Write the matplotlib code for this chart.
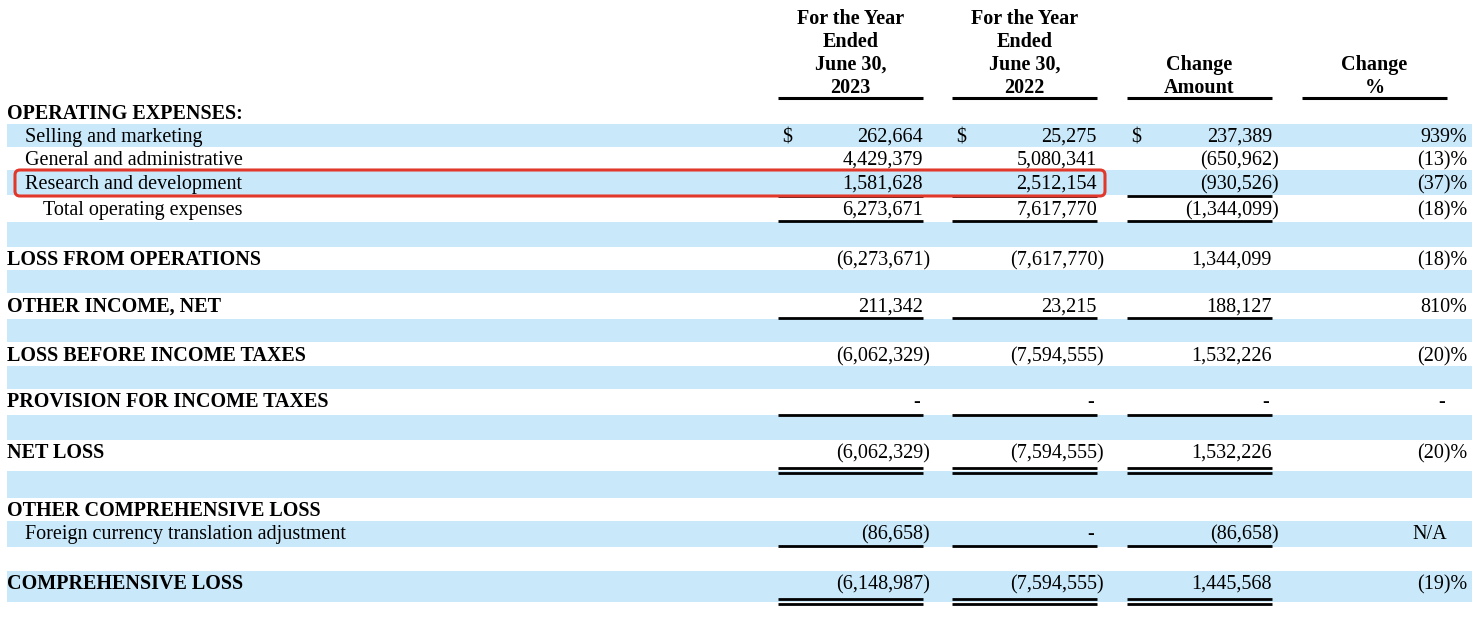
import matplotlib.pyplot as plt
from matplotlib.patches import Rectangle, FancyBboxPatch

# data
labels = ["Selling and marketing", "General and administrative", "Research and development",
          "Total operating expenses", "LOSS FROM OPERATIONS", "OTHER INCOME, NET",
          "LOSS BEFORE INCOME TAXES", "PROVISION FOR INCOME TAXES", "NET LOSS",
          "Foreign currency translation adjustment", "COMPREHENSIVE LOSS"]
y2023 = [262664, 4429379, 1581628, 6273671, -6273671, 211342, -6062329, None, -6062329, -86658, -6148987]
y2022 = [25275, 5080341, 2512154, 7617770, -7617770, 23215, -7594555, None, -7594555, None, -7594555]
change_amt = [237389, -650962, -930526, -1344099, 1344099, 188127, 1532226, None, 1532226, -86658, 1445568]
change_pct = [939, -13, -37, -18, -18, 810, -20, None, -20, "N/A", -19]
col_headers = [["For the Year", "Ended", "June 30,", "2023"],
               ["For the Year", "Ended", "June 30,", "2022"],
               ["Change", "Amount"],
               ["Change", "%"]]

# layout (pixel coords, text baselines)
row_y = [142, 165, 189, 215, 265, 312, 361, 407, 458, 539, 589]
row_x = [25, 25, 25, 43, 7, 7, 7, 7, 7, 25, 7]
row_bold = [False, False, False, False, True, True, True, True, True, False, True]
# underline style under each row: 0 none, 1 single, 2 double
row_rule = [0, 0, 1, 1, 0, 1, 0, 1, 2, 1, 2]
rule_y = [0, 0, 196, 221, 0, 318, 0, 415, 468, 546, 599]
bands = [(124, 147), (170, 195), (222, 247), (270, 293), (319, 342),
         (366, 389), (415, 440), (471, 498), (521, 547), (571, 602)]
col_left = [778, 952, 1127, 1302]
col_right = [923, 1097, 1272, 1447]
pct_right = 1467

W, H = 1481, 620
fig = plt.figure(figsize=(W / 100, H / 100), dpi=100)
ax = fig.add_axes([0, 0, 1, 1])
ax.set_xlim(0, W)
ax.set_ylim(H, 0)
ax.axis("off")

font = "Liberation Serif"
fs = 14.5
blue = "#c9e9fb"


def txt(x, y, s, ha="left", bold=False):
    ax.text(x, y, s, ha=ha, va="baseline", fontfamily=font, fontsize=fs,
            fontweight="bold" if bold else "normal")


for y0, y1 in bands:
    ax.add_patch(Rectangle((7, y0), 1465, y1 - y0, color=blue, lw=0, zorder=0))

# headers
for j, lines in enumerate(col_headers):
    cx = (col_left[j] + col_right[j]) / 2
    n = len(lines)
    for k, t in enumerate(lines):
        txt(cx, 93 - (n - 1 - k) * 23, t, ha="center", bold=True)
    ax.plot([col_left[j], col_right[j]], [98, 98], color="black", lw=2.2, solid_capstyle="butt")

txt(7, 119, "OPERATING EXPENSES:", bold=True)
txt(7, 516, "OTHER COMPREHENSIVE LOSS", bold=True)


def put_num(v, xr, y):
    if v is None:
        txt(xr - 3, y, "-", ha="right")
    elif v < 0:
        txt(xr + 7, y, "({:,})".format(-v), ha="right")
    else:
        txt(xr, y, "{:,}".format(v), ha="right")


for i, lab in enumerate(labels):
    y = row_y[i]
    txt(row_x[i], y, lab, bold=row_bold[i])
    for j, vals in enumerate([y2023, y2022, change_amt]):
        put_num(vals[i], col_right[j], y)
    p = change_pct[i]
    if p is None:
        ptxt, px = "-", pct_right - 22
    elif p == "N/A":
        ptxt, px = "N/A", pct_right - 20
    elif p < 0:
        ptxt, px = "({})%".format(-p), pct_right
    else:
        ptxt, px = "{}%".format(p), pct_right
    txt(px, y, ptxt, ha="right")
    if i == 0:
        for j in range(3):
            txt(col_left[j] + 4, y, "$")
    if row_rule[i]:
        for j in range(3):
            if row_rule[i] == 1:
                ax.plot([col_left[j], col_right[j]], [rule_y[i], rule_y[i]], color="black",
                        lw=2, solid_capstyle="butt")
            else:
                for dy in (0, 5):
                    ax.plot([col_left[j], col_right[j]], [rule_y[i] + dy, rule_y[i] + dy],
                            color="black", lw=2, solid_capstyle="butt")

# highlight box around research and development
ax.add_patch(FancyBboxPatch((15, 170), 1090, 26, boxstyle="round,pad=0,rounding_size=5",
                            fill=False, ec="#e2382b", lw=2.2, zorder=5))

fig.savefig("out.png", dpi=100)
